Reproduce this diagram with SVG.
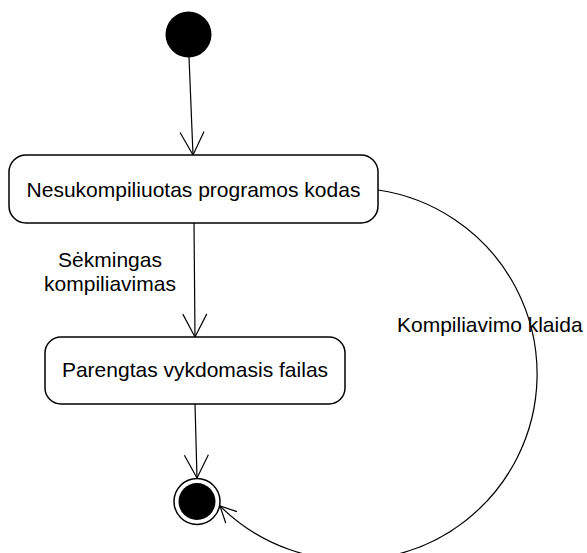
<svg xmlns="http://www.w3.org/2000/svg" width="587" height="553" viewBox="0 0 587 553">
  <style>
    .state { fill: #ffffff; stroke: #000000; stroke-width: 1.5; }
    .edge { fill: none; stroke: #000000; stroke-width: 1.2; }
    .label { font-family: "Liberation Sans", Arial, sans-serif; font-size: 21px; fill: #000000; }
  </style>
  <defs>
    <marker id="open-arrow" markerUnits="userSpaceOnUse" markerWidth="30" markerHeight="30" refX="26" refY="13" orient="auto" overflow="visible">
      <path d="M3,1 L26,13 L3,25" fill="none" stroke="#000000" stroke-width="1.2"/>
    </marker>
    <marker id="open-arrow-small" markerUnits="userSpaceOnUse" markerWidth="20" markerHeight="20" refX="17" refY="9" orient="auto" overflow="visible">
      <path d="M1,1 L17,9 L1,17" fill="none" stroke="#000000" stroke-width="1.2"/>
    </marker>
  </defs>

  <rect width="587" height="553" fill="#ffffff"/>

  <g id="connectors">
    <path class="edge" d="M189,57 L193,155" marker-end="url(#open-arrow)"/>
    <path class="edge" d="M194,223 L195,337" marker-end="url(#open-arrow)"/>
    <path class="edge" d="M195,404 L197,478" marker-end="url(#open-arrow)"/>
    <path class="edge" d="M378,190 A186,186 0 1 1 220,506" marker-end="url(#open-arrow-small)"/>
    <text class="label" x="110" y="267" text-anchor="middle">Sėkmingas</text>
    <text class="label" x="110" y="291" text-anchor="middle">kompiliavimas</text>
    <text class="label" x="397" y="332">Kompiliavimo klaida</text>
  </g>

  <g id="initial">
    <circle cx="188.5" cy="34.5" r="23" fill="#000000"/>
  </g>

  <g id="uncompiled">
    <rect class="state" x="9" y="155" width="369" height="68" rx="17" ry="17"/>
    <text class="label" x="193.5" y="197" text-anchor="middle">Nesukompiliuotas programos kodas</text>
  </g>

  <g id="executable">
    <rect class="state" x="45" y="337" width="300" height="67" rx="16" ry="16"/>
    <text class="label" x="195" y="377" text-anchor="middle">Parengtas vykdomasis failas</text>
  </g>

  <g id="final">
    <circle cx="197" cy="501.5" r="23" fill="#ffffff" stroke="#000000" stroke-width="1.5"/>
    <circle cx="197" cy="501.5" r="18.5" fill="#000000"/>
  </g>
</svg>
